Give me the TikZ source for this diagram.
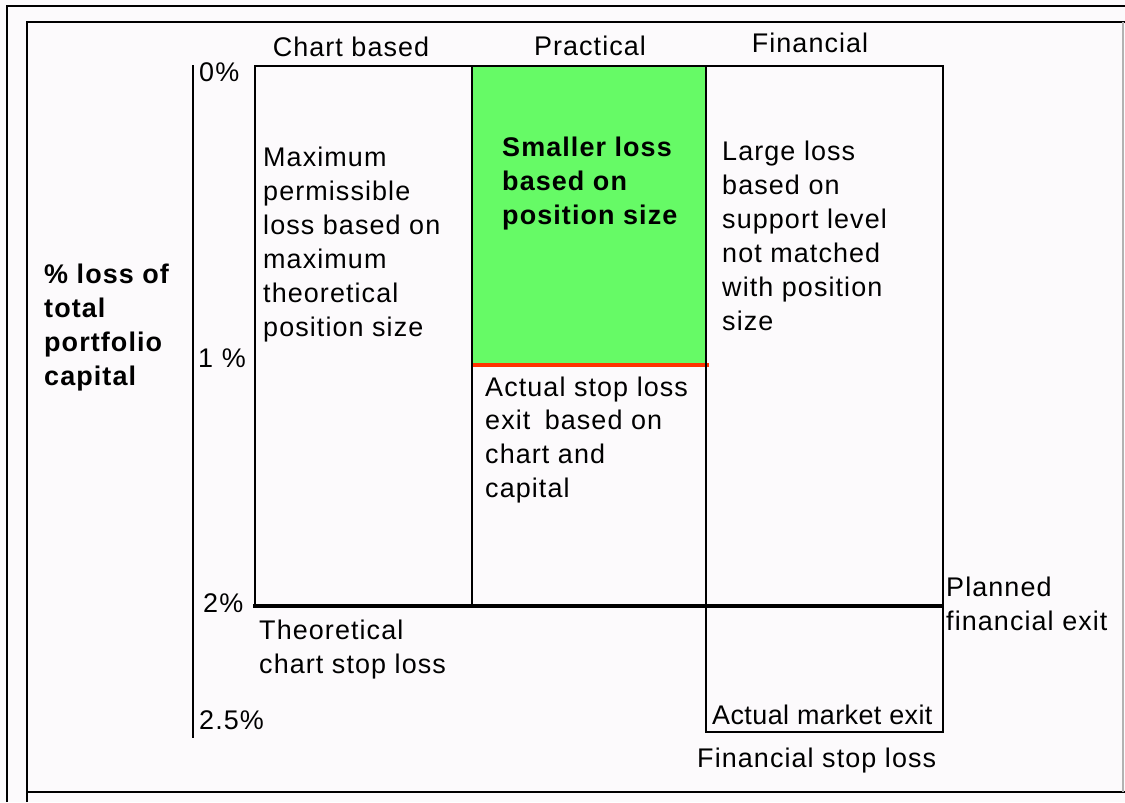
\documentclass[tikz,border=0pt]{standalone}
\usepackage{fontspec}
\setmainfont[LetterSpace=4]{Liberation Sans}
\usetikzlibrary{positioning}

\definecolor{paper}{RGB}{252,250,252}
\definecolor{zonegreen}{RGB}{102,250,102}
\definecolor{stopred}{RGB}{255,51,0}

\begin{document}
\begin{tikzpicture}[x=0.03cm, y=-0.03cm,
    txt/.style={inner sep=0pt, anchor=west, align=left, font=\fontsize{23}{29}\selectfont},
    bold/.style={txt, font=\fontsize{23}{29}\selectfont\bfseries},
    head/.style={inner sep=0pt, anchor=center, font=\fontsize{23}{29}\selectfont}]

    % Page and the two frames round it
    \fill[paper] (0,0) rectangle (1125,802);
    \useasboundingbox (0,0) rectangle (1125,802);
    \draw[line width=0.9pt] (7,802) -- (7,6) -- (1125,6);
    \draw[line width=1.7pt] (27,802) -- (27,22) -- (1125,22);
    \draw[line width=1.7pt] (27,792) -- (1125,792);
    \draw[line width=0.9pt, gray!60] (1123,22) -- (1123,792);

    % Coordinates of the grid
    \def\xL{255} \def\xA{472} \def\xB{706} \def\xR{943}
    \def\yT{66} \def\yS{365} \def\yP{606} \def\yM{732}

    % Green zone and its stop line
    \fill[zonegreen] (\xA,\yT) rectangle (\xB,\yS);
    \draw[stopred, line width=3pt] (\xA,\yS) -- (\xB+3,\yS);

    % Loss axis
    \draw[line width=1.9pt] (193,65) -- (193,738);

    % Columns
    \draw[line width=1.9pt] (\xL,\yP) -- (\xL,\yT) -- (\xR,\yT) -- (\xR,\yP);
    \draw[line width=0.9pt] (\xA,\yT) -- (\xA,\yP);
    \draw[line width=1.9pt] (\xB,\yT) -- (\xB,\yM) -- (\xR,\yM) -- (\xR,\yP);
    \draw[line width=3.6pt] (\xL-2,\yP) -- (\xR,\yP);

    % Column heads
    \node[head] (chart) at (351,47) {Chart based};
    \node[head] (practical) at (590,46) {Practical};
    \node[head] (financial) at (810,43) {Financial};

    % Axis ticks
    \node[txt] (p0) at (199,72) {0\%};
    \node[txt] (p1) at (198,358) {1 \%};
    \node[txt] (p2) at (203,603) {2\%};
    \node[txt] (p25) at (199,720) {2.5\%};
    \node[bold] (axis) at (44,327.5) {\% loss of\\total\\portfolio\\capital};

    % Texts in the columns
    \node[txt] (maxloss) at (263,244.5) {Maximum\\permissible\\loss based on\\maximum\\theoretical\\position size};
    \node[bold] (smaller) at (502,184) {Smaller loss\\based on\\position size};
    \node[txt] (large) at (722,235.5) {Large loss\\based on\\support level\\not matched\\with position\\size};
    \node[txt] (actual) at (485,440) {Actual stop loss\\exit\hspace{5pt} based on\\chart and\\capital};

    % Exits
    \node[txt] (theory) at (259,650) {Theoretical\\chart stop loss};
    \node[txt] (planned) at (946,604) {Planned\\financial exit};
    \node[txt, font=\fontsize{23}{29}\selectfont\addfontfeature{LetterSpace=1.5}] (market) at (712,715) {Actual market exit};
    \node[txt] (finstop) at (697,761) {Financial stop loss};

\end{tikzpicture}
\end{document}
